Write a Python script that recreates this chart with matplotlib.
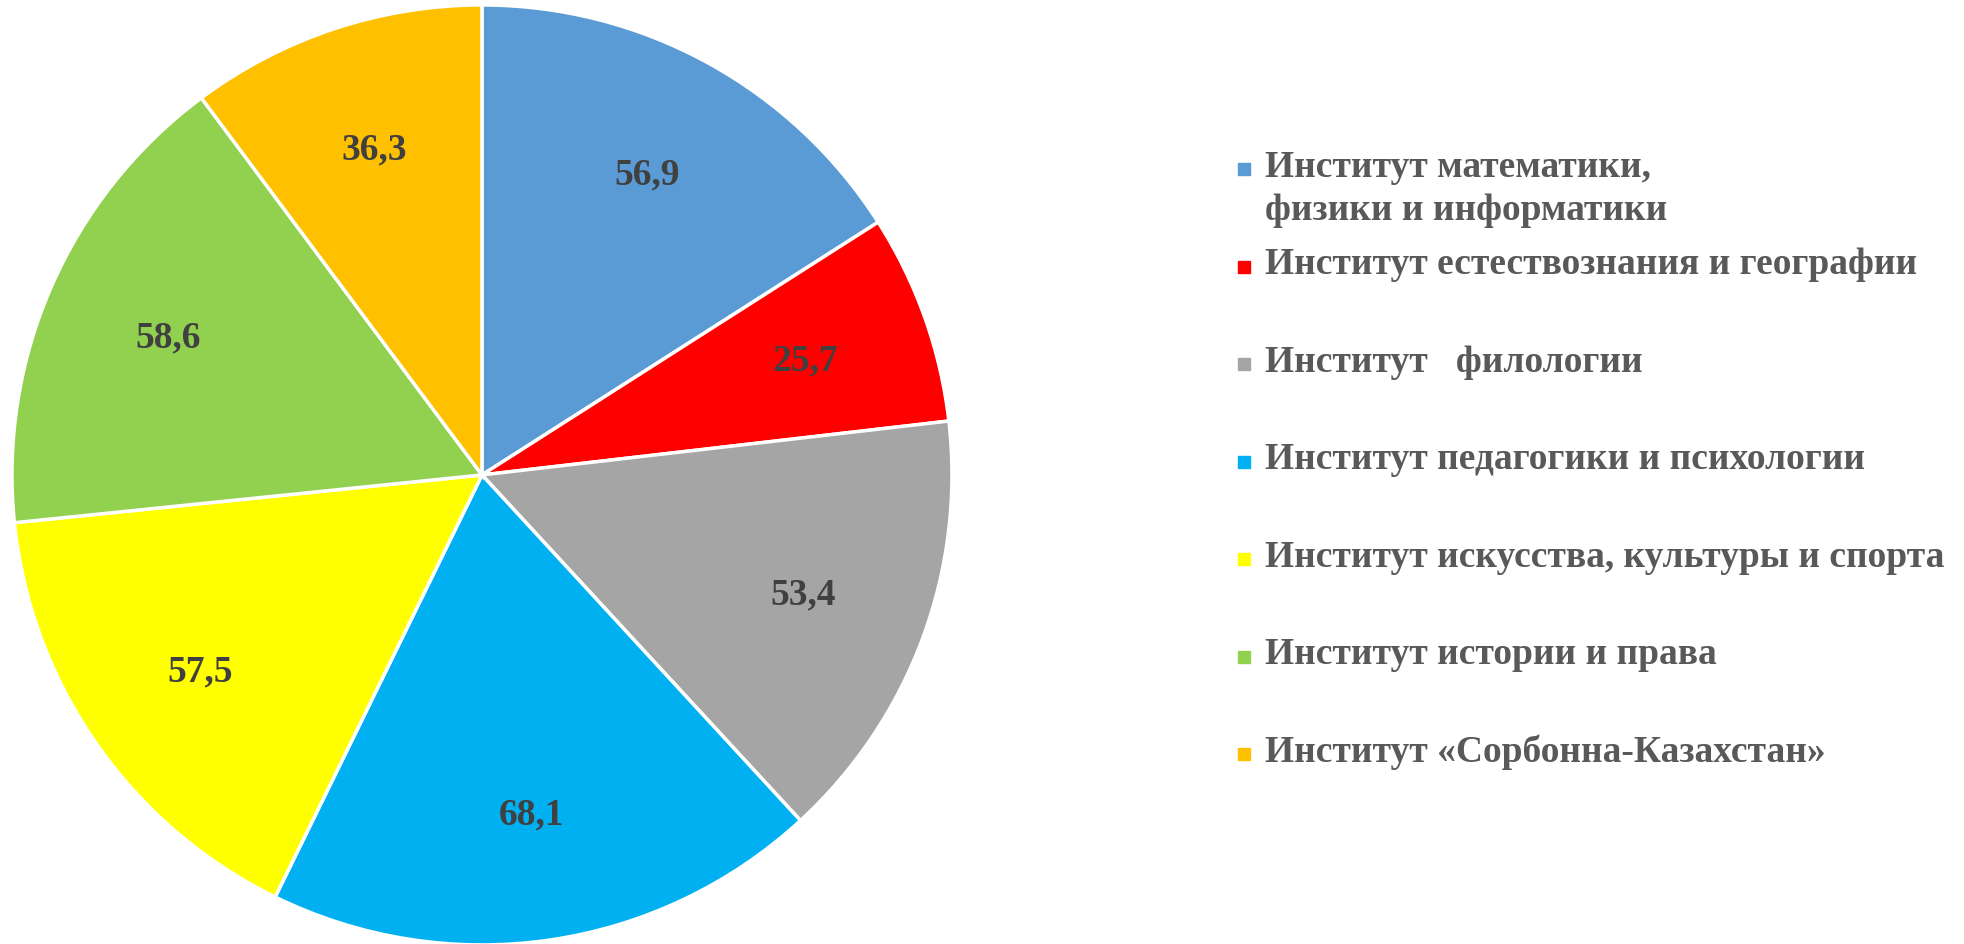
import matplotlib.pyplot as plt

institutes = [
    'Институт математики,\nфизики и информатики',
    'Институт естествознания и географии',
    'Институт   филологии',
    'Институт педагогики и психологии',
    'Институт искусства, культуры и спорта',
    'Институт истории и права',
    'Институт «Сорбонна-Казахстан»',
]
values = [56.9, 25.7, 53.4, 68.1, 57.5, 58.6, 36.3]
colors = ['#5B9BD5', '#FF0000', '#A5A5A5', '#00B0F0', '#FFFF00', '#92D050', '#FFC000']

plt.rcParams['font.family'] = ['Liberation Serif', 'DejaVu Serif']

fig = plt.figure(figsize=(19.64, 9.45), dpi=100)
ax = fig.add_axes([0.0061, -0.001, 0.4786, 0.9947])

wedges, texts, autotexts = ax.pie(
    values, colors=colors, startangle=90, counterclock=False,
    autopct=lambda p: '{:.1f}'.format(p * sum(values) / 100).replace('.', ','),
    pctdistance=0.73, radius=1.0,
    wedgeprops=dict(edgecolor='white', linewidth=2.5),
)
for t in autotexts:
    t.set_fontsize(27)
    t.set_fontweight('bold')
    t.set_color('#404040')
ax.set_xlim(-1.0, 1.0)
ax.set_ylim(-1.0, 1.0)
ax.set_aspect('equal')

# legend drawn by hand, Excel style
x_mark = 1244 / 1964
x_text = 1265 / 1964
y0 = 170 / 945
step = 97.5 / 945
for i, (name, c) in enumerate(zip(institutes, colors)):
    y = 1 - y0 - i * step
    fig.patches.append(plt.Rectangle((x_mark - 6 / 1964, y - 6 / 945), 12 / 1964, 12 / 945,
                                     transform=fig.transFigure, color=c))
    fig.text(x_text, y + 20 / 945, name, fontsize=27, fontweight='bold', color='#595959',
             va='top', ha='left', linespacing=1.3)

fig.savefig('out.png', dpi=100)
